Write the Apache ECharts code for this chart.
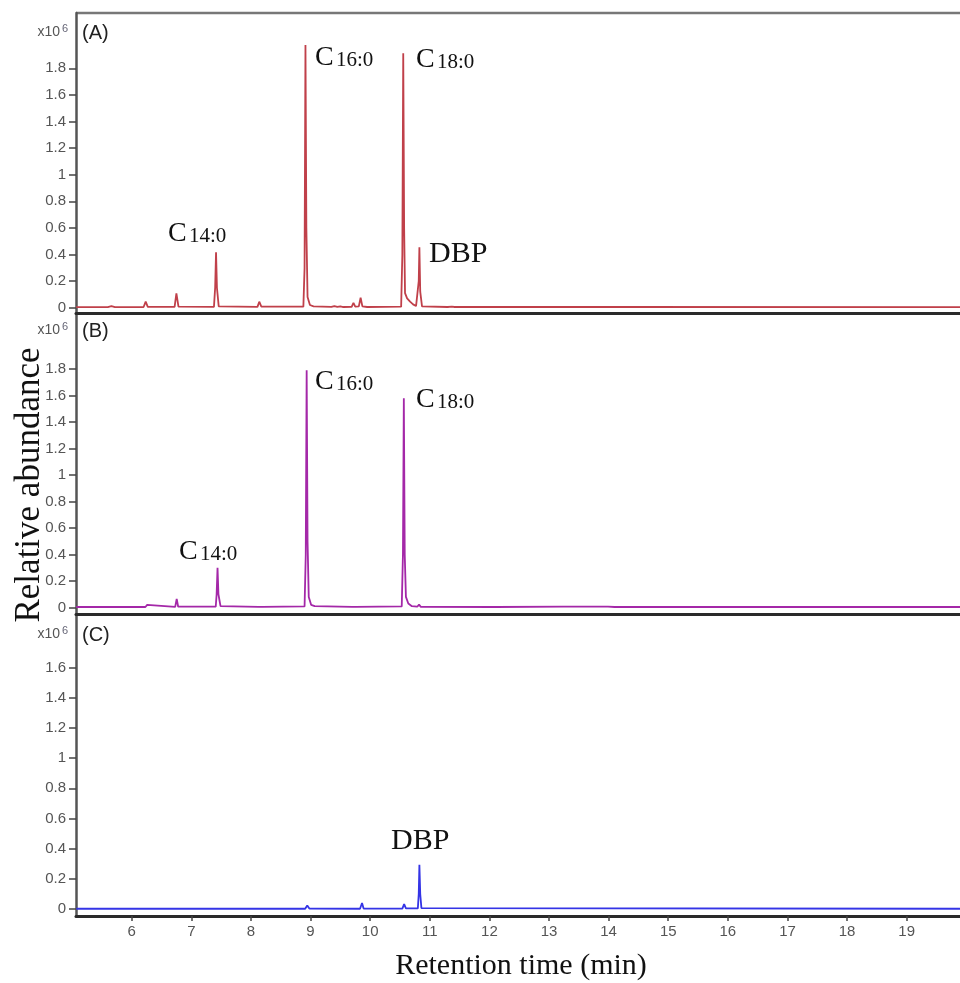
<!DOCTYPE html>
<html><head><meta charset="utf-8">
<script src="https://cdn.jsdelivr.net/npm/echarts@6/dist/echarts.min.js"></script>
<style>html,body{margin:0;padding:0;background:#fff}#chart{width:960px;height:983px}</style>
</head><body><div id="chart"></div>
<script>
// ---------- data (abundance in units of 10^6, time in min) ----------
const xTicks = [6,7,8,9,10,11,12,13,14,15,16,17,18,19];
const yTicksAB = [0,0.2,0.4,0.6,0.8,1,1.2,1.4,1.6,1.8];
const yTicksC = [0,0.2,0.4,0.6,0.8,1,1.2,1.4,1.6];
const panelTags = ['(A)','(B)','(C)'];
const xTitle = 'Retention time (min)';
const yTitle = 'Relative abundance';

const traceA = [
  [5.07,0.004],[5.6,0.004],[5.66,0.012],[5.72,0.004],
  [6.2,0.005],[6.235,0.045],[6.27,0.006],
  [6.72,0.006],[6.75,0.108],[6.785,0.008],
  [7.38,0.006],[7.40,0.15],[7.415,0.416],[7.43,0.15],[7.46,0.01],
  [8.11,0.006],[8.14,0.045],[8.175,0.008],
  [8.88,0.008],[8.90,0.3],[8.915,1.975],[8.93,0.6],[8.95,0.08],[8.99,0.02],[9.05,0.01],
  [9.35,0.006],[9.40,0.012],[9.45,0.006],[9.5,0.01],[9.55,0.005],
  [9.69,0.006],[9.72,0.037],[9.75,0.008],[9.81,0.01],[9.84,0.075],[9.87,0.01],[9.95,0.005],
  [10.52,0.008],[10.54,0.4],[10.555,1.913],[10.57,0.6],[10.585,0.11],[10.62,0.07],[10.67,0.045],
  [10.72,0.025],[10.77,0.012],[10.80,0.02],[10.815,0.2],[10.826,0.454],[10.84,0.12],[10.87,0.01],
  [11.3,0.005],[11.37,0.008],[11.42,0.005],
  [12.15,0.005],[12.18,0.016],[12.21,0.005],
  [13.41,0.005],[13.44,0.016],[13.47,0.005],
  [14.23,0.005],[14.26,0.01],[14.29,0.005],
  [19.9,0.004]
];
const traceB = [
  [5.07,0.004],[6.23,0.004],[6.26,0.02],[6.29,0.005],
  [6.73,0.005],[6.755,0.065],[6.78,0.006],
  [7.41,0.006],[7.425,0.1],[7.44,0.30],[7.455,0.1],[7.49,0.01],
  [8.13,0.005],[8.16,0.02],[8.19,0.005],
  [8.90,0.008],[8.92,0.4],[8.935,1.79],[8.95,0.5],[8.97,0.08],[9.01,0.02],[9.07,0.01],
  [9.70,0.005],[9.73,0.02],[9.76,0.005],
  [10.53,0.008],[10.55,0.4],[10.565,1.58],[10.58,0.4],[10.6,0.08],[10.64,0.03],[10.7,0.01],
  [10.79,0.006],[10.82,0.022],[10.85,0.005],
  [12.05,0.004],[12.08,0.01],[12.11,0.004],
  [13.24,0.006],[13.66,0.006],[13.99,0.007],[14.1,0.004],
  [19.9,0.004]
];
const traceC = [
  [5.07,0.002],[8.91,0.002],[8.945,0.024],[8.98,0.003],
  [9.83,0.002],[9.864,0.04],[9.89,0.003],
  [10.54,0.003],[10.57,0.033],[10.60,0.004],
  [10.80,0.004],[10.815,0.1],[10.826,0.293],[10.84,0.1],[10.86,0.006],
  [19.9,0.002]
];

// ---------- layout ----------
const GL = 76;
const panels = [
  {top:13,  height:300, ymin:-0.04,  ymax:2.216, color:'#c0404a', data:traceA, ticks:yTicksAB, expY:31},
  {top:314, height:300, ymin:-0.049, ymax:2.215, color:'#a428a8', data:traceB, ticks:yTicksAB, expY:329},
  {top:615, height:301, ymin:-0.046, ymax:1.948, color:'#3434e6', data:traceC, ticks:yTicksC, expY:633}
];
const SERIF = '"Liberation Serif","Times New Roman",serif';
const SANS = '"Liberation Sans",Arial,sans-serif';
const fmt = v => String(+(+v).toFixed(1));

function txt(x, y, text, font, opts) {
  opts = opts || {};
  return {type:'text', x:x, y:y, rotation:opts.rotation||0, silent:true, z:100,
    style:{text:text, font:font, fill:opts.fill||'#111',
      align:opts.align||'left', textAlign:opts.align||'left',
      verticalAlign:'middle', textVerticalAlign:'middle'}};
}
function subLabel(x, base, main, sub) {
  return [
    txt(x, base - 9.5, main, '28px ' + SERIF),
    txt(x + 21, base - 7, sub, '21px ' + SERIF)
  ];
}

const grids = [], xAxes = [], yAxes = [], series = [];
panels.forEach((p, i) => {
  grids.push({left:GL, right:0, top:p.top, height:p.height});
  const last = i === panels.length - 1;
  xAxes.push({type:'value', gridIndex:i, min:5.066, max:19.894,
    axisLine:{show:true, onZero:false, lineStyle:{color:'#2a2a2a', width:3}},
    splitLine:{show:false},
    axisTick:{show:last, customValues:xTicks, length:5, lineStyle:{color:'#444', width:1.5}},
    axisLabel:{show:last, customValues:xTicks, margin:8, color:'#555', fontSize:15, fontFamily:SANS}
  });
  yAxes.push({type:'value', gridIndex:i, min:p.ymin, max:p.ymax,
    axisLine:{show:true, onZero:false, lineStyle:{color:'#555', width:2.5}},
    splitLine:{show:false},
    axisTick:{show:true, customValues:p.ticks, length:7, lineStyle:{color:'#444', width:1.5}},
    axisLabel:{show:true, customValues:p.ticks, margin:10, color:'#555', fontSize:15, fontFamily:SANS, formatter:fmt}
  });
  series.push({type:'line', xAxisIndex:i, yAxisIndex:i, data:p.data, showSymbol:false, symbol:'none',
    lineStyle:{color:p.color, width:1.8}, animation:false, clip:true});
});

const graphics = [
  {type:'line', shape:{x1:GL, y1:13, x2:960, y2:13}, style:{stroke:'#777', lineWidth:2.5}, silent:true},
  txt(30, 485, yTitle, '35px ' + SERIF, {align:'center', rotation:Math.PI/2}),
  txt(521, 966, xTitle, '30px ' + SERIF, {align:'center'})
];
panels.forEach((p, i) => {
  graphics.push(txt(60, p.expY + 1, 'x10', '14px ' + SANS, {align:'right', fill:'#555'}));
  graphics.push(txt(62, p.expY - 2, '6', '11px ' + SANS, {fill:'#667'}));
  graphics.push(txt(82, p.expY + 2, panelTags[i], '20px ' + SANS, {fill:'#222'}));
});
// peak annotations
graphics.push(...subLabel(168, 243, 'C', '14:0'));
graphics.push(...subLabel(315, 67, 'C', '16:0'));
graphics.push(...subLabel(416, 69, 'C', '18:0'));
graphics.push(txt(429, 254, 'DBP', '30px ' + SERIF));
graphics.push(...subLabel(315, 391, 'C', '16:0'));
graphics.push(...subLabel(416, 409, 'C', '18:0'));
graphics.push(...subLabel(179, 561, 'C', '14:0'));
graphics.push(txt(391, 841, 'DBP', '30px ' + SERIF));

const chart = echarts.init(document.getElementById('chart'), null, {renderer:'canvas'});
chart.setOption({
  animation:false,
  backgroundColor:'#fff',
  grid:grids, xAxis:xAxes, yAxis:yAxes, series:series, graphic:graphics
});
</script></body></html>
